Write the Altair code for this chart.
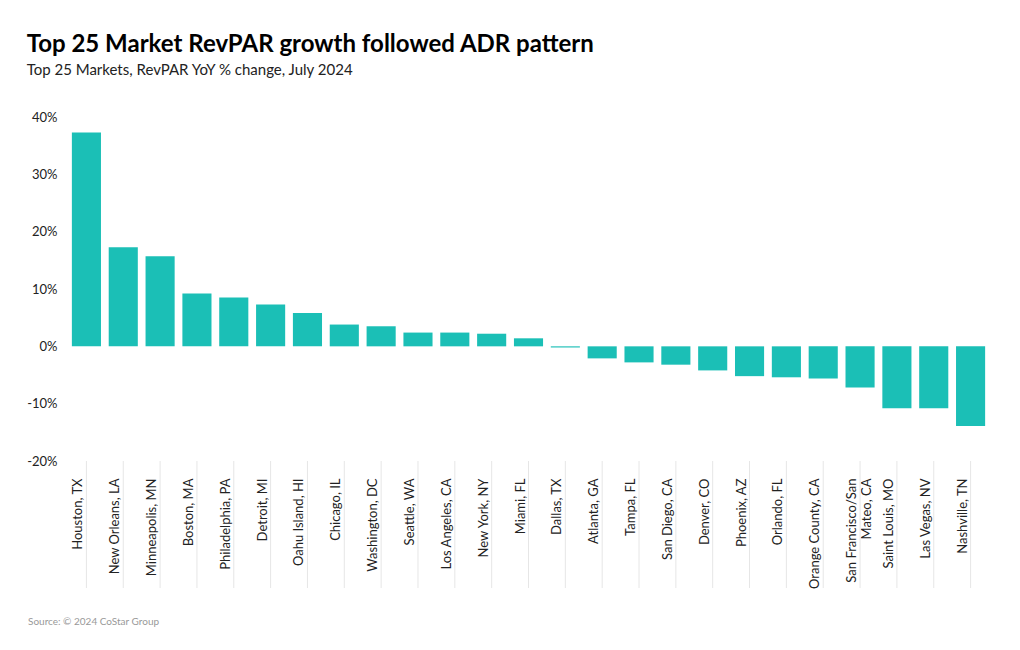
import altair as alt
import pandas as pd

markets = ["Houston, TX", "New Orleans, LA", "Minneapolis, MN", "Boston, MA", "Philadelphia, PA",
           "Detroit, MI", "Oahu Island, HI", "Chicago, IL", "Washington, DC", "Seattle, WA",
           "Los Angeles, CA", "New York, NY", "Miami, FL", "Dallas, TX", "Atlanta, GA",
           "Tampa, FL", "San Diego, CA", "Denver, CO", "Phoenix, AZ", "Orlando, FL",
           "Orange County, CA", "San Francisco/San Mateo, CA", "Saint Louis, MO", "Las Vegas, NV",
           "Nashville, TN"]
revpar_yoy = [37.3, 17.3, 15.7, 9.2, 8.5,
              7.3, 5.8, 3.8, 3.5, 2.4,
              2.4, 2.2, 1.4, -0.2, -2.1,
              -2.8, -3.2, -4.2, -5.2, -5.4,
              -5.6, -7.2, -10.8, -10.8, -13.9]
y_ticks = [-20, -10, 0, 10, 20, 30, 40]

df = pd.DataFrame({"market": markets, "value": revpar_yoy})
FONT = "Lato"
W, H = 921, 344

x_enc = alt.X("market:N", sort=markets,
              scale=alt.Scale(paddingInner=0.21, paddingOuter=0.105),
              axis=alt.Axis(title=None, labelAngle=-90, ticks=False, domain=False,
                            labelPadding=17, labelFontSize=13, labelColor="#222",
                            labelFont=FONT, labelLimit=200, labelOffset=-8,
                            labelExpr="datum.label == 'San Francisco/San Mateo, CA' ? ['San Francisco/San', 'Mateo, CA'] : datum.label"))

bars = alt.Chart(df).mark_bar(color="#1BBFB6").encode(
    x=x_enc,
    y=alt.Y("value:Q", scale=alt.Scale(domain=[-20, 40], nice=False),
            axis=alt.Axis(title=None, values=y_ticks, labelExpr="datum.value + '%'",
                          grid=False, ticks=False, domain=False, labelPadding=11,
                          labelFontSize=13, labelColor="#222", labelFont=FONT)),
)

seps = alt.Chart(df).mark_rule(color="#e6e6e6", strokeWidth=1).encode(
    x=alt.X("market:N", sort=markets),
    y=alt.value(H),
    y2=alt.value(H + 127),
)

source = alt.Chart(pd.DataFrame({"t": ["Source: © 2024 CoStar Group"]})).mark_text(
    align="left", baseline="middle", fontSize=10, color="#999999", font=FONT
).encode(text="t:N", x=alt.value(-40), y=alt.value(H + 161))

chart = alt.layer(seps, bars, source).properties(
    width=W, height=H,
    background="white",
    padding={"left": 18, "top": 25, "right": 10, "bottom": 10},
    title=alt.TitleParams(
        text="Top 25 Market RevPAR growth followed ADR pattern",
        subtitle="Top 25 Markets, RevPAR YoY % change, July 2024",
        anchor="start", frame="bounds", font=FONT, fontSize=24, fontWeight="bold",
        color="#000", subtitleFont=FONT, subtitleFontSize=15, subtitleColor="#222",
        subtitlePadding=6, offset=33,
    ),
).configure_view(strokeWidth=0, stroke="transparent")

chart.save("out.html", embed_options={"renderer": "svg", "actions": False})
